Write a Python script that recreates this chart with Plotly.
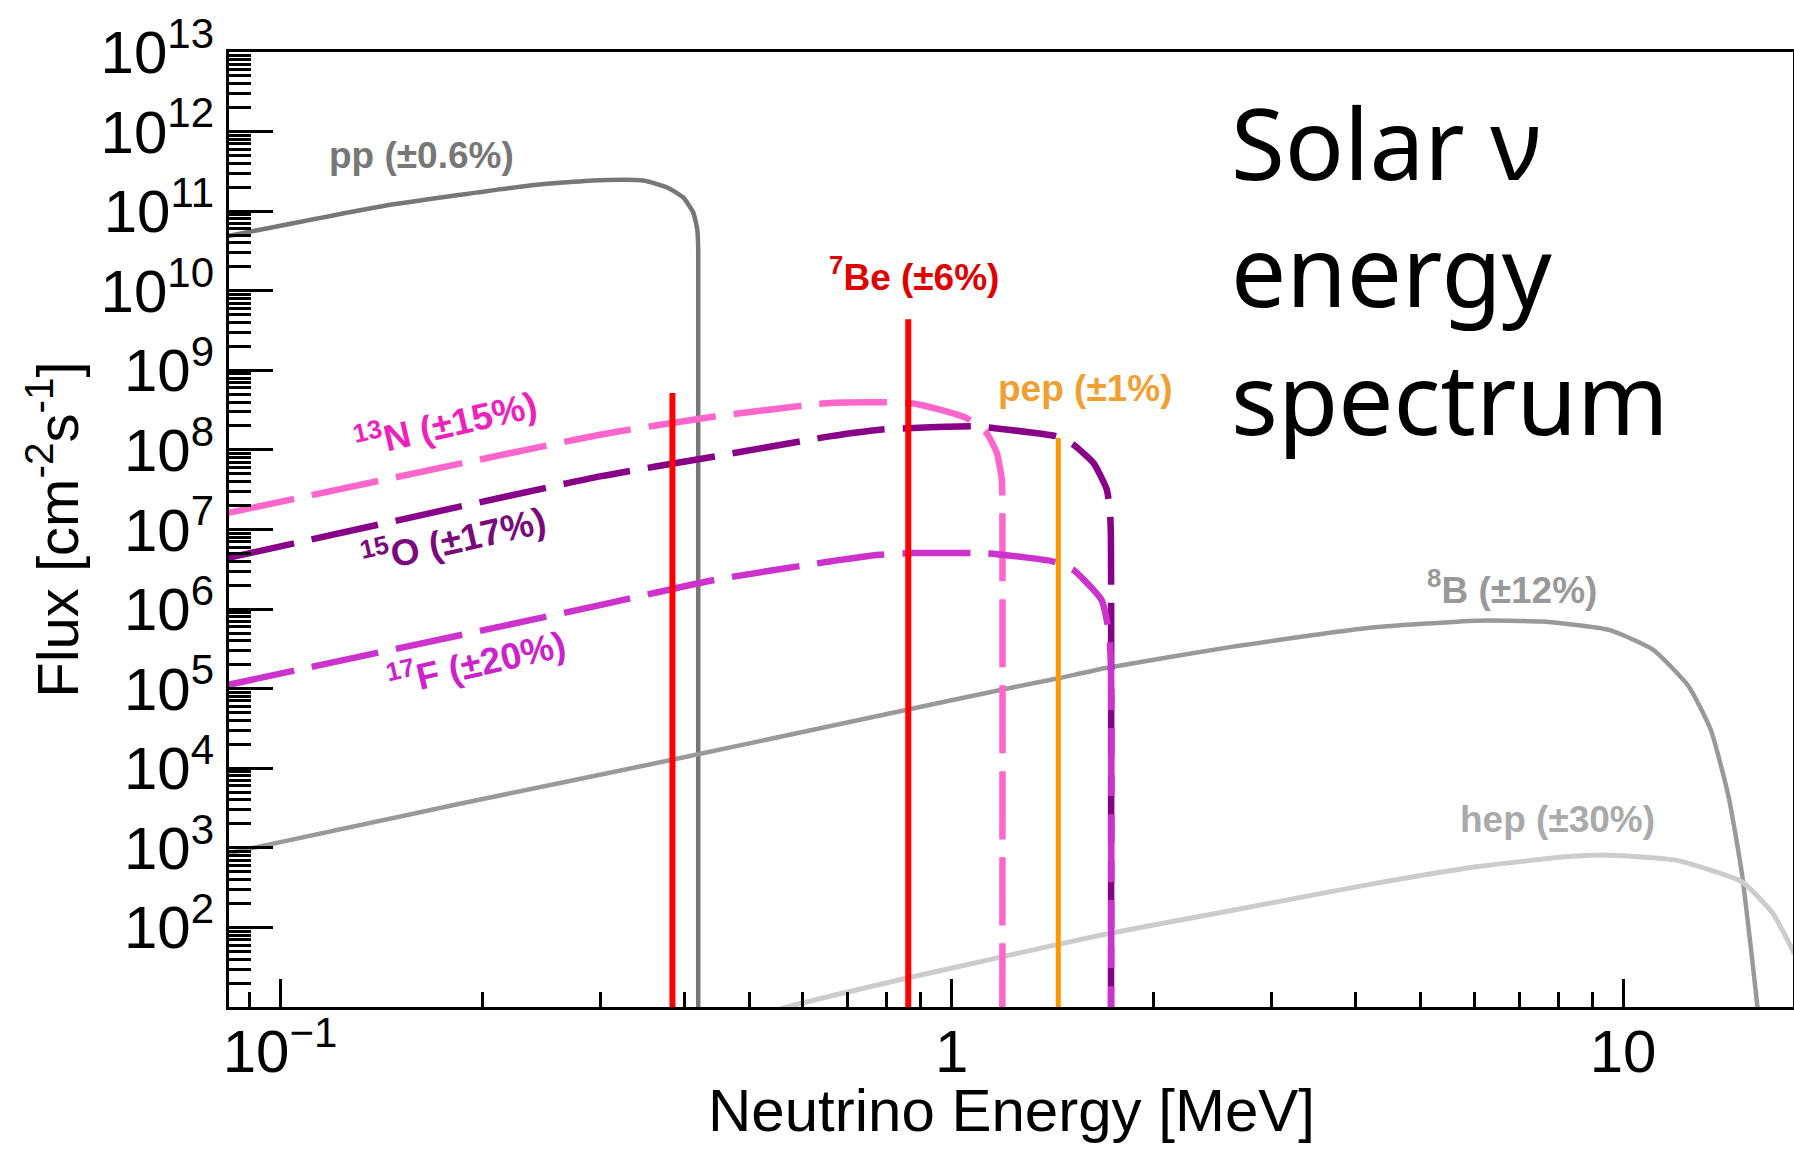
import plotly.graph_objects as go

# ---------------- data ----------------
# energies in MeV, fluxes in cm^-2 s^-1 (MeV^-1 for continuous spectra)
pp_E = [0.0835, 0.142, 0.234, 0.261, 0.2996, 0.3475, 0.3765, 0.3987, 0.4125, 0.4181, 0.4195, 0.4195]
pp_F = [4.85e10, 1.156e11, 2.09e11, 2.275e11, 2.455e11, 2.427e11, 1.995e11, 1.479e11,
        9.55e10, 5.89e10, 3.31e10, 1.0]

b8_E = [0.0835, 0.1845, 0.382, 0.865, 1.197, 1.443, 1.69, 2.624, 4.137, 6.045, 7.59,
        9.53, 11.09, 12.53, 13.51, 14.36, 15.03, 15.49, 15.85, 16.1]
b8_F = [851, 3548, 12680, 55080, 98400, 135200, 180700, 337300, 575400, 716100, 696600,
        547000, 306900, 105900, 30200, 4365, 476, 56.9, 10, 2]

hep_E = [0.50, 0.569, 0.853, 1.188, 1.664, 2.624, 4.137, 6.045, 8.19, 9.53, 11.97, 15.03, 16.71, 17.98]
hep_F = [7.1, 10, 22.8, 42.6, 79.8, 164.4, 339.6, 576.8, 770.9, 809.1, 699.8, 373.3, 149.6, 47.0]

n13_E = [0.0835, 0.2996, 0.444, 0.658, 0.782, 0.867, 0.961, 1.053, 1.128, 1.168, 1.188, 1.19, 1.19]
n13_F = [1.607e7, 1.549e8, 2.63e8, 3.89e8, 3.98e8, 3.89e8, 3.21e8, 2.51e8, 1.62e8, 9.12e7,
         4.22e7, 2.57e7, 1.0]

o15_E = [0.0835, 0.2996, 0.444, 0.658, 0.782, 0.877, 1.09, 1.154, 1.434, 1.518, 1.627,
         1.703, 1.722, 1.727, 1.727]
o15_F = [4.37e6, 4.65e7, 8.28e7, 1.479e8, 1.795e8, 1.884e8, 1.977e8, 1.884e8, 1.479e8,
         1.164e8, 6.84e7, 3.16e7, 1.607e7, 7.94e6, 1.0]

f17_E = [0.0835, 0.2996, 0.444, 0.658, 0.782, 0.877, 1.09, 1.168, 1.418, 1.518, 1.672,
         1.716, 1.727, 1.727]
f17_F = [1.114e5, 1.122e6, 2.33e6, 3.96e6, 4.81e6, 5.05e6, 5.05e6, 4.9e6, 3.96e6, 3.11e6,
         1.306e6, 5.0e5, 2.0e5, 1.0]

be7_E = [0.384, 0.862]
be7_F = [5.2e8, 4.4e9]

pep_E = [1.442]
pep_F = [1.41e8]

x_tickvals = [0.1, 1, 10]
x_ticktext = ["10<sup>\u22121</sup>", "1", "10"]
y_exponents = list(range(2, 14))
y_tickvals = [10.0 ** k for k in y_exponents]
y_ticktext = ["10<sup>%d</sup>" % k for k in y_exponents]

x_title = "Neutrino Energy [MeV]"
y_title = "Flux [cm<sup>-2</sup>s<sup>-1</sup>]"

FLOOR = 1.0  # below the visible range: vertical lines run down to the axis


def lines_from(E_list, F_list):
    xs, ys = [], []
    for e, f in zip(E_list, F_list):
        xs += [e, e, None]
        ys += [FLOOR, f, None]
    return xs, ys


DASH = "68px,18px"
SM = 0.5
fig = go.Figure()

fig.add_trace(go.Scatter(x=pp_E, y=pp_F, mode="lines", name="pp",
                         line=dict(color="#777777", width=4.5, shape="spline", smoothing=SM)))
fig.add_trace(go.Scatter(x=b8_E, y=b8_F, mode="lines", name="8B",
                         line=dict(color="#999999", width=4.5, shape="spline", smoothing=SM)))
fig.add_trace(go.Scatter(x=hep_E, y=hep_F, mode="lines", name="hep",
                         line=dict(color="#CCCCCC", width=5, shape="spline", smoothing=SM)))
fig.add_trace(go.Scatter(x=n13_E, y=n13_F, mode="lines", name="13N",
                         line=dict(color="#FF66CC", width=6.5, dash=DASH, shape="spline", smoothing=SM)))
fig.add_trace(go.Scatter(x=o15_E, y=o15_F, mode="lines", name="15O",
                         line=dict(color="#880088", width=6.5, dash=DASH, shape="spline", smoothing=SM)))
fig.add_trace(go.Scatter(x=f17_E, y=f17_F, mode="lines", name="17F",
                         line=dict(color="#CC33CC", width=6.5, dash=DASH, shape="spline", smoothing=SM)))
bx, by = lines_from(be7_E, be7_F)
fig.add_trace(go.Scatter(x=bx, y=by, mode="lines", name="7Be",
                         line=dict(color="#FF0000", width=6)))
px_, py_ = lines_from(pep_E, pep_F)
fig.add_trace(go.Scatter(x=px_, y=py_, mode="lines", name="pep",
                         line=dict(color="#FF9900", width=5)))

LAB = "Liberation Sans"


def label(text, lx, ly, color, angle=0):
    fig.add_annotation(x=lx, y=ly, xref="x", yref="y", text="<b>%s</b>" % text,
                       showarrow=False, textangle=angle, xanchor="center", yanchor="middle",
                       font=dict(family=LAB, size=37, color=color))


label("pp (\u00b10.6%)", -0.789, 11.70, "#777777")
label("<sup>7</sup>Be (\u00b16%)", -0.056, 10.21, "#E00000")
label("pep (\u00b11%)", 0.200, 8.775, "#F0A030")
label("<sup>8</sup>B (\u00b112%)", 0.835, 6.27, "#999999")
label("hep (\u00b130%)", 0.903, 3.35, "#AAAAAA")
label("<sup>13</sup>N (\u00b115%)", -0.753, 8.35, "#EE22BB", -13)
label("<sup>15</sup>O (\u00b117%)", -0.742, 6.89, "#7A0A7A", -13)
label("<sup>17</sup>F (\u00b120%)", -0.707, 5.34, "#CC22CC", -13)

fig.add_annotation(x=0.6394, y=0.978, xref="paper", yref="paper",
                   text="Solar \u03bd<br>energy<br>spectrum", showarrow=False,
                   xanchor="left", yanchor="top", align="left",
                   font=dict(family="Noto Sans", size=98, color="black"))

# x-axis title, placed just under the tick labels as in the reference
fig.add_annotation(x=0.5, y=-0.0713, xref="paper", yref="paper", text=x_title,
                   showarrow=False, xanchor="center", yanchor="top",
                   font=dict(family=LAB, size=60, color="black"))

minor_x = [d * 10.0 ** k for k in (-2, -1, 0, 1) for d in range(2, 10)]
minor_y = [d * 10.0 ** k for k in range(0, 13) for d in range(2, 10)]

fig.update_xaxes(type="log", range=[-1.076, 1.253], tickmode="array",
                 tickvals=x_tickvals, ticktext=x_ticktext,
                 ticks="inside", ticklen=28, tickwidth=3, tickcolor="black",
                 ticklabelposition="outside", ticklabelstandoff=-10,
                 showline=True, linewidth=3, linecolor="black", mirror=True,
                 showgrid=False, zeroline=False,
                 tickfont=dict(family=LAB, size=60, color="black"),
                 minor=dict(ticks="inside", ticklen=15, tickwidth=3, tickcolor="black",
                            tickmode="array", tickvals=minor_x, showgrid=False))
fig.update_yaxes(type="log", range=[1, 13], tickmode="array",
                 tickvals=y_tickvals, ticktext=y_ticktext,
                 ticks="inside", ticklen=44, tickwidth=3, tickcolor="black",
                 showline=True, linewidth=3, linecolor="black", mirror=True,
                 showgrid=False, zeroline=False,
                 tickfont=dict(family=LAB, size=60, color="black"),
                 minor=dict(ticks="inside", ticklen=22, tickwidth=3, tickcolor="black",
                            tickmode="array", tickvals=minor_y, showgrid=False),
                 title=dict(text=y_title, standoff=4,
                            font=dict(family=LAB, size=58, color="black")))

fig.update_layout(width=1794, height=1151, showlegend=False,
                  margin=dict(l=229, r=1, t=52, b=144, autoexpand=False),
                  paper_bgcolor="white", plot_bgcolor="white")

fig.write_html("out.html")
